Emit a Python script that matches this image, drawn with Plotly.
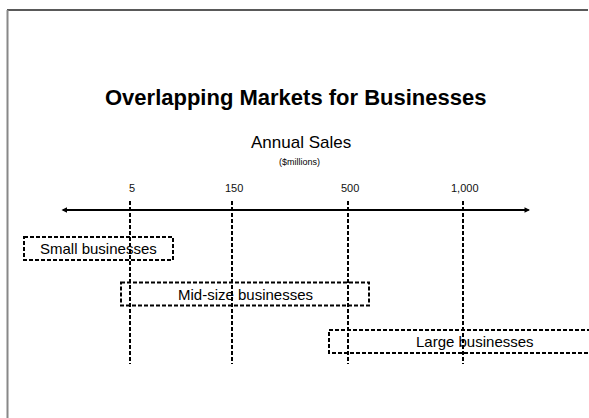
import plotly.graph_objects as go

# ---- data ----
title_text = "Overlapping Markets for Businesses"
axis_title = "Annual Sales"
axis_unit = "($millions)"
sales_labels = ["5", "150", "500", "1,000"]
sales_pos = [130, 232, 348, 463]          # position of each sales mark on the diagram scale
markets = ["Small businesses", "Mid-size businesses", "Large businesses"]
market_start = [24, 121, 329]
market_end = [173, 369, 621]
market_row = [248.5, 294, 341.5]
scale_start, scale_end = 60, 530

W, H = 589, 418
FONT = "Liberation Sans, Arial, sans-serif"
DASH = "4px,2px"

fig = go.Figure()

# vertical dashed marker lines at each sales level
for xp in sales_pos:
    fig.add_trace(go.Scatter(
        x=[xp, xp], y=[201, 364], mode="lines",
        line=dict(color="black", width=2, dash=DASH),
        hoverinfo="skip", showlegend=False))

shapes = []
annotations = []

# market boxes
for name, x0, x1, yc in zip(markets, market_start, market_end, market_row):
    shapes.append(dict(type="rect", xref="x", yref="y", x0=x0, x1=x1,
                       y0=yc - 11.5, y1=yc + 11.5,
                       line=dict(color="black", width=2, dash=DASH),
                       fillcolor="rgba(0,0,0,0)", layer="above"))
    annotations.append(dict(x=(x0 + x1) / 2, y=yc, xref="x", yref="y",
                            text=name, showarrow=False,
                            font=dict(family=FONT, size=15, color="black"),
                            xanchor="center", yanchor="middle"))

# sales tick labels
for lab, xp in zip(sales_labels, sales_pos):
    annotations.append(dict(x=xp + 2, y=188, xref="x", yref="y", text=lab,
                            showarrow=False,
                            font=dict(family=FONT, size=11, color="#111111"),
                            xanchor="center", yanchor="middle"))

# double-headed scale arrow
annotations.append(dict(x=scale_end, y=210, ax=scale_start, ay=210,
                        xref="x", yref="y", axref="x", ayref="y",
                        text="", showarrow=True, arrowside="end+start",
                        arrowhead=2, arrowsize=0.55, arrowwidth=2,
                        arrowcolor="black"))

# titles
annotations.append(dict(x=295, y=97, xref="x", yref="y",
                        text="<b>" + title_text + "</b>", showarrow=False,
                        font=dict(family=FONT, size=22, color="black"),
                        xanchor="center", yanchor="middle"))
annotations.append(dict(x=W / 2 + 6, y=142, xref="x", yref="y",
                        text=axis_title, showarrow=False,
                        font=dict(family=FONT, size=17, color="black"),
                        xanchor="center", yanchor="middle"))
annotations.append(dict(x=W / 2 + 5, y=162, xref="x", yref="y",
                        text=axis_unit, showarrow=False,
                        font=dict(family=FONT, size=9, color="black"),
                        xanchor="center", yanchor="middle"))

# slide frame
shapes.append(dict(type="line", xref="paper", yref="paper",
                   x0=7 / W, x1=588 / W, y0=1 - 10 / H, y1=1 - 10 / H,
                   line=dict(color="#222222", width=1.5)))
shapes.append(dict(type="line", xref="paper", yref="paper",
                   x0=7.5 / W, x1=7.5 / W, y0=0, y1=1 - 10 / H,
                   line=dict(color="#888888", width=2)))

fig.update_layout(
    width=W, height=H,
    margin=dict(l=0, r=0, t=0, b=0),
    paper_bgcolor="white", plot_bgcolor="white",
    xaxis=dict(range=[0, W], visible=False, fixedrange=True),
    yaxis=dict(range=[H, 0], visible=False, fixedrange=True),
    shapes=shapes, annotations=annotations,
    showlegend=False,
)

fig.write_html("out.html")
